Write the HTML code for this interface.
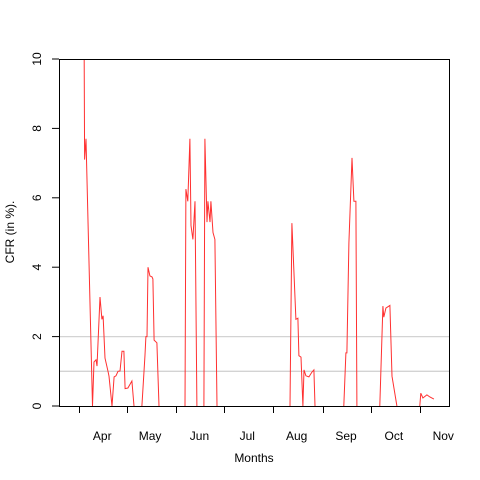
<!DOCTYPE html>
<html><head><meta charset="utf-8"><style>body{margin:0;background:#fff}svg{display:block;font-family:"Liberation Sans",sans-serif}</style></head>
<body>
<svg id="chart" width="480" height="480" viewBox="0 0 480 480">
<defs><clipPath id="clip"><rect x="59" y="59" width="390" height="347"/></clipPath></defs>
<g id="grid"></g>
<g id="series" clip-path="url(#clip)"></g>
<rect x="59.5" y="59.5" width="390" height="347" fill="none" stroke="#000"/>
<g id="axes"></g>
<text x="254" y="462" font-size="12" text-anchor="middle">Months</text>
<text transform="translate(14,232) rotate(-90)" font-size="12" text-anchor="middle">CFR (in %).</text>
</svg>
<script>
const segDays = [
 [3.1,3.5,4.4,8.5,9.4,10.7,11.3,13.2,14.4,15.1,16.3,18.2,18.8,20.7,22.0,23.2,24.5,25.7,27.0,28.2,28.9,30.7,33.2,34.5],
 [39.5,41.4,42.0,42.7,43.3,44.5,45.8,46.4,47.1,48.9,50.2],
 [66.5,67.1,68.3,69.6,70.3,71.5,72.8,74.0],
 [78.4,79.0,80.3,80.9,82.2,82.8,84.1,85.3,86.6],
 [132.4,133.6,136.1,137.4,138.0,139.3,140.5,141.2,142.4,144.3,146.2,147.4,148.1],
 [166.2,167.5,168.1,169.4,171.3,172.5,173.8,174.4],
 [188.8,190.7,191.3,192.6,195.1,196.4,199.5],
 [213.9,214.5,215.8,218.3,220.2,222.7]
];
const segValues = [
 [12,7.1,7.7,0,1.27,1.33,1.15,3.14,2.5,2.6,1.38,1.0,0.86,0,0.84,0.87,1.0,1.01,1.58,1.58,0.5,0.52,0.72,0],
 [0,1.47,2.0,2.0,4.0,3.75,3.72,3.66,1.9,1.82,0],
 [0,6.25,5.9,7.7,5.2,4.8,5.9,0],
 [0,7.7,5.3,5.9,5.3,5.9,5.0,4.8,0],
 [0,5.27,2.5,2.53,1.45,1.41,0,1.04,0.87,0.84,0.98,1.04,0],
 [0,1.53,1.53,4.7,7.15,5.9,5.9,0],
 [0,2.88,2.56,2.82,2.9,0.86,0],
 [0,0.37,0.23,0.32,0.26,0.2]
];
const yTicks = [0,2,4,6,8,10];
const monthTickDays = [0,30,61,91,122,153,183,214];
const monthLabels = ["Apr","May","Jun","Jul","Aug","Sep","Oct","Nov"];
const monthLabelDays = [14.6,44.6,75.6,105.6,136.6,167.6,197.6,228.6];
const refLines = [1,2];

const X = d => 79 + d*341/214;
const Y = v => 406 - v*34.7;
const NS="http://www.w3.org/2000/svg";
function mk(t,a,p){const e=document.createElementNS(NS,t);for(const k in a)e.setAttribute(k,a[k]);p.appendChild(e);return e;}
const grid=document.getElementById('grid'),series=document.getElementById('series'),axes=document.getElementById('axes');
refLines.forEach(v=>{
 const l=mk('line',{x1:59,x2:449,y1:Y(v),y2:Y(v),stroke:'#d3d3d3','stroke-width':1.3},grid);
 
 
});
segDays.forEach((ds,i)=>{
 const pts=ds.map((d,j)=>X(d).toFixed(1)+','+Y(segValues[i][j]).toFixed(1)).join(' ');
 const p=mk('polyline',{points:pts,fill:'none',stroke:'#ff3030','stroke-width':1},series);
 
 
});
yTicks.forEach(v=>{
 const y=Y(v);
 const t=mk('line',{x1:52,x2:59,y1:y,y2:y,stroke:'#000'},axes);
 
 
 const tx=mk('text',{transform:`translate(41,${y}) rotate(-90)`,'font-size':12,'text-anchor':'middle'},axes);
 tx.textContent=v;
 
 
});
monthTickDays.forEach(d=>{
 const x=Math.round(X(d))+0.5;
 const t=mk('line',{x1:x,x2:x,y1:406,y2:413,stroke:'#000'},axes);
 
 
});
monthLabels.forEach((m,i)=>{
 const tx=mk('text',{x:X(monthLabelDays[i]),y:440,'font-size':12,'text-anchor':'middle'},axes);
 tx.textContent=m;
 
 
});
</script>
</body></html>
